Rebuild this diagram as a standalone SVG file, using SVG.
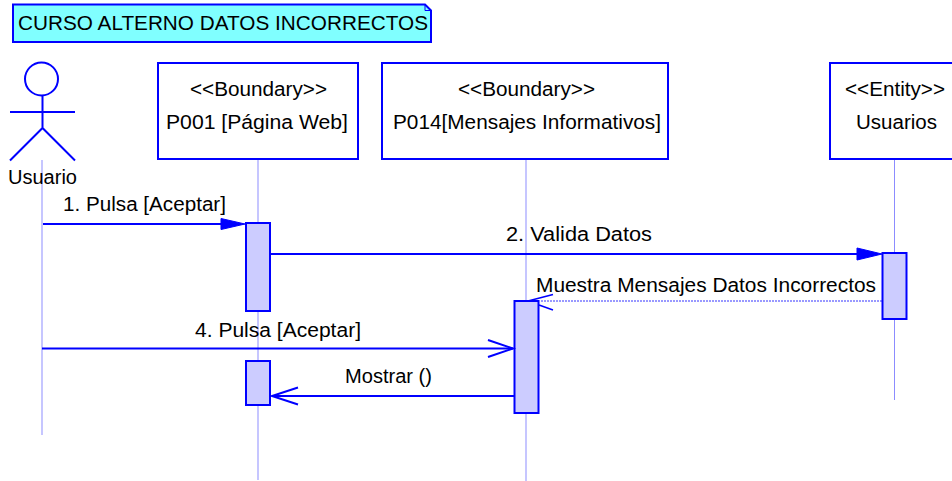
<svg xmlns="http://www.w3.org/2000/svg" width="952" height="481" viewBox="0 0 952 481">
<style>
text{font-family:"Liberation Sans",Arial,sans-serif;font-size:20px;fill:#000}
.b{fill:#fff;stroke:#0000ff;stroke-width:2}
.a{fill:#ccccff;stroke:#0000ff;stroke-width:2}
.l{fill:none;stroke:#0000ff;stroke-width:2}
.t{fill:none;stroke:#0000ff;stroke-width:1;stroke-opacity:.45}
.d{fill:none;stroke:#0000ff;stroke-width:1;stroke-dasharray:2 1;stroke-opacity:.8}
.h{fill:#0000ff;stroke:#0000ff}
</style>
<g id="note">
<path d="M13 4.500H425L431 10.500V42H13Z" fill="#80ffff" stroke="#0000ff" stroke-width="2"/>
<path d="M425 4.500V10.500H431" fill="none" stroke="#0000ff"/>
<text x="18" y="30" textLength="410" lengthAdjust="spacingAndGlyphs">CURSO ALTERNO DATOS INCORRECTOS</text>
</g>
<g id="lifelines">
<line class="t" x1="42" y1="160" x2="42" y2="435"/>
<line class="t" x1="258" y1="160" x2="258" y2="480"/>
<line class="t" x1="526" y1="160" x2="526" y2="481"/>
<line class="t" x1="894.500" y1="160" x2="894.500" y2="400"/>
</g>
<g id="actor-usuario">
<circle class="l" cx="41.500" cy="79" r="16.500"/>
<path class="l" d="M42.500 95V128M10 112H75M10 160.500L42.500 128L75 160.500"/>
<text x="8" y="184" textLength="69" lengthAdjust="spacingAndGlyphs">Usuario</text>
</g>
<g id="p001">
<rect class="b" x="158" y="63" width="200" height="96"/>
<text x="190" y="96" textLength="137" lengthAdjust="spacingAndGlyphs">&lt;&lt;Boundary&gt;&gt;</text>
<text x="166" y="129" textLength="182" lengthAdjust="spacingAndGlyphs">P001 [Página Web]</text>
</g>
<g id="p014">
<rect class="b" x="382" y="63" width="286" height="96"/>
<text x="458" y="96" textLength="137" lengthAdjust="spacingAndGlyphs">&lt;&lt;Boundary&gt;&gt;</text>
<text x="393" y="129" textLength="268" lengthAdjust="spacingAndGlyphs">P014[Mensajes Informativos]</text>
</g>
<g id="usuarios">
<rect class="b" x="830" y="63" width="130" height="96"/>
<text x="845" y="96" textLength="100" lengthAdjust="spacingAndGlyphs">&lt;&lt;Entity&gt;&gt;</text>
<text x="856" y="129" textLength="81" lengthAdjust="spacingAndGlyphs">Usuarios</text>
</g>
<g id="activations">
<rect class="a" x="246" y="223" width="24" height="88"/>
<rect class="a" x="246" y="361" width="24" height="44"/>
<rect class="a" x="514.500" y="301" width="24" height="112"/>
<rect class="a" x="882.500" y="253" width="24" height="66"/>
</g>
<g id="connectors">
<line class="l" x1="43" y1="224" x2="222" y2="224"/>
<path class="h" d="M221 218.500L245 224L221 229.500Z"/>
<line class="l" x1="270" y1="254" x2="858" y2="254"/>
<path class="h" d="M857 248L882 254L857 260Z"/>
<line class="d" x1="882" y1="301" x2="540" y2="301"/>
<path class="l" d="M553 294.500L528 301M539 305L553 310" style="stroke-width:1.500"/>
<line class="l" x1="42" y1="348.500" x2="513" y2="348.500"/>
<path class="l" d="M488 340L513 348.500L488 357"/>
<line class="l" x1="514" y1="396" x2="272" y2="396"/>
<path class="l" d="M298 387.500L272 396L298 404.500"/>
</g>
<g id="labels">
<text x="63" y="211" textLength="163" lengthAdjust="spacingAndGlyphs">1. Pulsa [Aceptar]</text>
<text x="506" y="241" textLength="146" lengthAdjust="spacingAndGlyphs">2. Valida Datos</text>
<text x="536" y="292" textLength="340" lengthAdjust="spacingAndGlyphs">Muestra Mensajes Datos  Incorrectos</text>
<text x="195" y="337" textLength="166" lengthAdjust="spacingAndGlyphs">4. Pulsa [Aceptar]</text>
<text x="345" y="383" textLength="87" lengthAdjust="spacingAndGlyphs">Mostrar ()</text>
</g>
</svg>
